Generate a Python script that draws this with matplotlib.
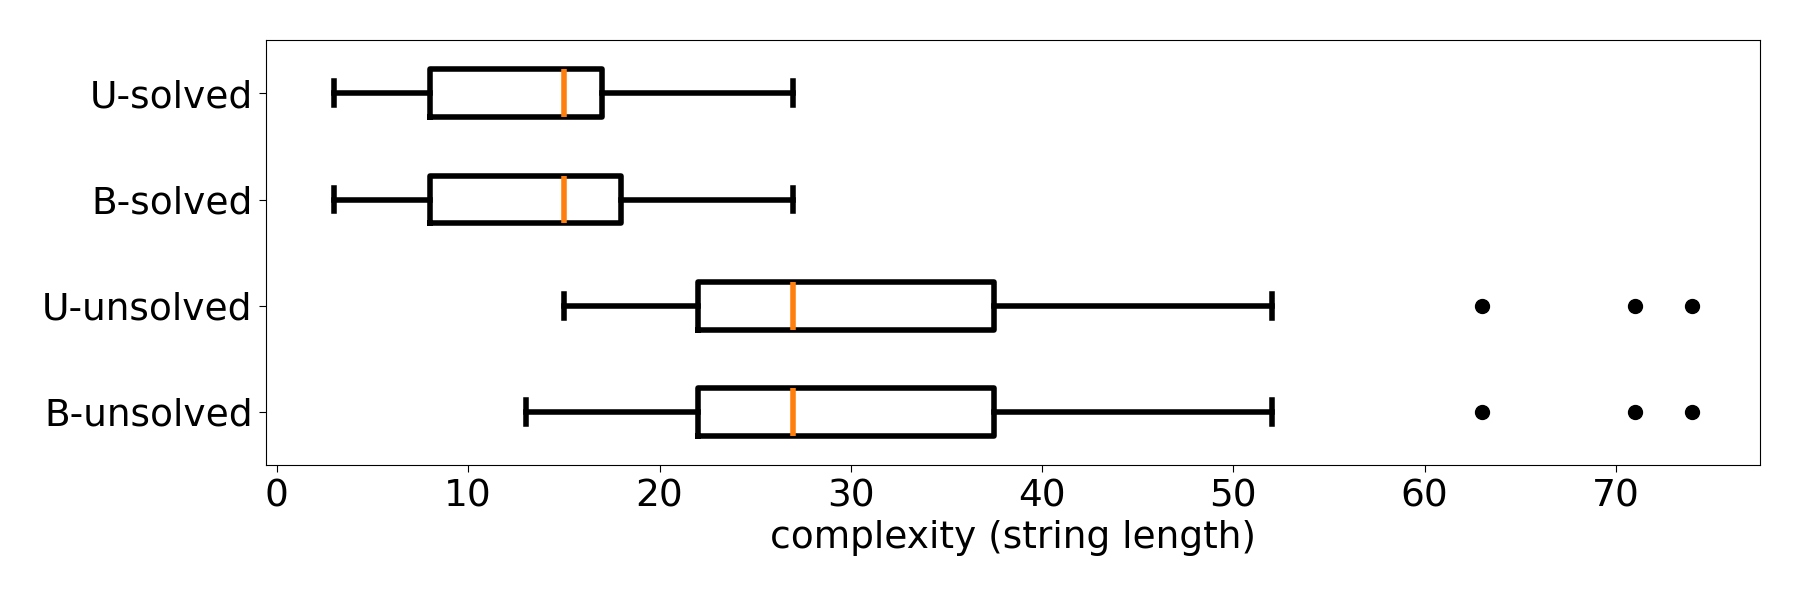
import matplotlib
matplotlib.use("Agg")

import matplotlib.pyplot as plt

plt.rcParams.update({
    "font.family": "DejaVu Sans",
    "font.size": 27,
})

# bottom to top
LABELS = ["B-unsolved", "U-unsolved", "B-solved", "U-solved"]
WHISLO = [13, 15, 3, 3]
Q1 = [22, 22, 8, 8]
MED = [27, 27, 15, 15]
Q3 = [37.5, 37.5, 18, 17]
WHISHI = [52, 52, 27, 27]
FLIERS = [[63, 71, 74], [63, 71, 74], [], []]

stats = []
for i, lab in enumerate(LABELS):
    stats.append({
        "label": lab,
        "whislo": WHISLO[i],
        "q1": Q1[i],
        "med": MED[i],
        "q3": Q3[i],
        "whishi": WHISHI[i],
        "fliers": FLIERS[i],
    })

fig, ax = plt.subplots(figsize=(18, 6), dpi=100)

lw = 4
ax.bxp(
    stats,
    vert=False,
    boxprops=dict(linewidth=lw, color="black"),
    whiskerprops=dict(linewidth=lw, color="black"),
    capprops=dict(linewidth=lw, color="black"),
    medianprops=dict(linewidth=lw, color="#ff7f0e"),
    flierprops=dict(marker="o", markerfacecolor="black",
                    markeredgecolor="black", markersize=10),
)

ax.set_xlabel("complexity (string length)")
ax.tick_params(axis="both", labelsize=27, length=5, pad=5)

fig.subplots_adjust(left=0.148, right=0.978, top=0.933, bottom=0.225)
fig.savefig("out.png", dpi=100)
